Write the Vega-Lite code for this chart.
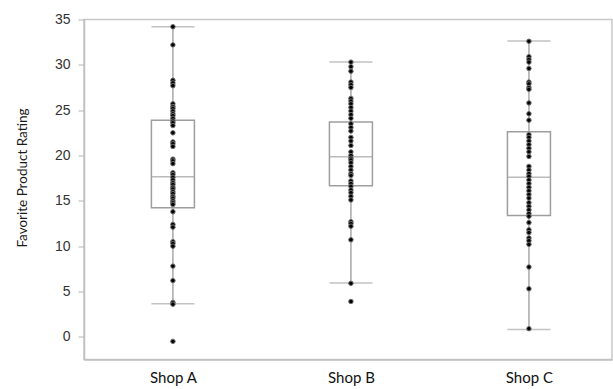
{
  "$schema": "https://vega.github.io/schema/vega-lite/v6.json",
  "width": 528,
  "height": 340,
  "autosize": {"type": "none"},
  "padding": {"left": 84, "top": 19.5, "right": 1, "bottom": 29.5},
  "background": "white",
  "config": {
    "view": {"stroke": "#c8c8c8", "strokeWidth": 1.5},
    "axis": {"grid": false}
  },
  "datasets": {
    "stats": [
      {"shop": "Shop A", "q1": 14.25, "median": 17.67, "q3": 23.9, "lo": 3.66, "hi": 34.2},
      {"shop": "Shop B", "q1": 16.65, "median": 19.87, "q3": 23.7, "lo": 5.94, "hi": 30.3},
      {"shop": "Shop C", "q1": 13.38, "median": 17.6, "q3": 22.63, "lo": 0.8, "hi": 32.64}
    ],
    "points": [
      {"shop": "Shop A", "rating": 34.2}, {"shop": "Shop A", "rating": 32.2}, {"shop": "Shop A", "rating": 28.3}, {"shop": "Shop A", "rating": 28.0}, {"shop": "Shop A", "rating": 27.7}, {"shop": "Shop A", "rating": 25.7}, {"shop": "Shop A", "rating": 25.4}, {"shop": "Shop A", "rating": 25.2}, {"shop": "Shop A", "rating": 24.9}, {"shop": "Shop A", "rating": 24.6}, {"shop": "Shop A", "rating": 24.4}, {"shop": "Shop A", "rating": 24.1}, {"shop": "Shop A", "rating": 23.8}, {"shop": "Shop A", "rating": 23.6}, {"shop": "Shop A", "rating": 23.3}, {"shop": "Shop A", "rating": 22.5}, {"shop": "Shop A", "rating": 21.5}, {"shop": "Shop A", "rating": 21.3}, {"shop": "Shop A", "rating": 21.0}, {"shop": "Shop A", "rating": 19.6}, {"shop": "Shop A", "rating": 19.4}, {"shop": "Shop A", "rating": 19.1}, {"shop": "Shop A", "rating": 18.1}, {"shop": "Shop A", "rating": 17.9}, {"shop": "Shop A", "rating": 17.6}, {"shop": "Shop A", "rating": 17.3}, {"shop": "Shop A", "rating": 17.0}, {"shop": "Shop A", "rating": 16.8}, {"shop": "Shop A", "rating": 16.5}, {"shop": "Shop A", "rating": 16.3}, {"shop": "Shop A", "rating": 16.0}, {"shop": "Shop A", "rating": 15.8}, {"shop": "Shop A", "rating": 15.5}, {"shop": "Shop A", "rating": 15.3}, {"shop": "Shop A", "rating": 15.0}, {"shop": "Shop A", "rating": 14.8}, {"shop": "Shop A", "rating": 14.6}, {"shop": "Shop A", "rating": 13.8}, {"shop": "Shop A", "rating": 12.4}, {"shop": "Shop A", "rating": 12.1}, {"shop": "Shop A", "rating": 10.5}, {"shop": "Shop A", "rating": 10.3}, {"shop": "Shop A", "rating": 10.0}, {"shop": "Shop A", "rating": 7.8}, {"shop": "Shop A", "rating": 6.2}, {"shop": "Shop A", "rating": 3.8}, {"shop": "Shop A", "rating": 3.6}, {"shop": "Shop A", "rating": -0.5},
      {"shop": "Shop B", "rating": 30.3}, {"shop": "Shop B", "rating": 29.8}, {"shop": "Shop B", "rating": 29.3}, {"shop": "Shop B", "rating": 28.1}, {"shop": "Shop B", "rating": 27.8}, {"shop": "Shop B", "rating": 27.5}, {"shop": "Shop B", "rating": 26.3}, {"shop": "Shop B", "rating": 26.0}, {"shop": "Shop B", "rating": 25.7}, {"shop": "Shop B", "rating": 25.3}, {"shop": "Shop B", "rating": 24.9}, {"shop": "Shop B", "rating": 24.5}, {"shop": "Shop B", "rating": 24.1}, {"shop": "Shop B", "rating": 23.5}, {"shop": "Shop B", "rating": 23.1}, {"shop": "Shop B", "rating": 22.7}, {"shop": "Shop B", "rating": 22.0}, {"shop": "Shop B", "rating": 21.6}, {"shop": "Shop B", "rating": 21.1}, {"shop": "Shop B", "rating": 20.4}, {"shop": "Shop B", "rating": 20.0}, {"shop": "Shop B", "rating": 19.7}, {"shop": "Shop B", "rating": 19.5}, {"shop": "Shop B", "rating": 19.2}, {"shop": "Shop B", "rating": 18.8}, {"shop": "Shop B", "rating": 18.4}, {"shop": "Shop B", "rating": 18.0}, {"shop": "Shop B", "rating": 17.8}, {"shop": "Shop B", "rating": 17.2}, {"shop": "Shop B", "rating": 16.9}, {"shop": "Shop B", "rating": 16.6}, {"shop": "Shop B", "rating": 16.2}, {"shop": "Shop B", "rating": 15.9}, {"shop": "Shop B", "rating": 15.5}, {"shop": "Shop B", "rating": 15.1}, {"shop": "Shop B", "rating": 12.7}, {"shop": "Shop B", "rating": 12.5}, {"shop": "Shop B", "rating": 12.2}, {"shop": "Shop B", "rating": 10.7}, {"shop": "Shop B", "rating": 5.9}, {"shop": "Shop B", "rating": 3.9},
      {"shop": "Shop C", "rating": 32.6}, {"shop": "Shop C", "rating": 30.9}, {"shop": "Shop C", "rating": 30.6}, {"shop": "Shop C", "rating": 30.3}, {"shop": "Shop C", "rating": 29.6}, {"shop": "Shop C", "rating": 28.1}, {"shop": "Shop C", "rating": 27.9}, {"shop": "Shop C", "rating": 27.5}, {"shop": "Shop C", "rating": 27.3}, {"shop": "Shop C", "rating": 25.8}, {"shop": "Shop C", "rating": 24.6}, {"shop": "Shop C", "rating": 23.9}, {"shop": "Shop C", "rating": 22.3}, {"shop": "Shop C", "rating": 22.0}, {"shop": "Shop C", "rating": 21.6}, {"shop": "Shop C", "rating": 21.2}, {"shop": "Shop C", "rating": 20.8}, {"shop": "Shop C", "rating": 20.4}, {"shop": "Shop C", "rating": 19.9}, {"shop": "Shop C", "rating": 18.8}, {"shop": "Shop C", "rating": 18.4}, {"shop": "Shop C", "rating": 18.0}, {"shop": "Shop C", "rating": 17.7}, {"shop": "Shop C", "rating": 17.3}, {"shop": "Shop C", "rating": 16.9}, {"shop": "Shop C", "rating": 16.5}, {"shop": "Shop C", "rating": 16.1}, {"shop": "Shop C", "rating": 15.7}, {"shop": "Shop C", "rating": 15.3}, {"shop": "Shop C", "rating": 14.8}, {"shop": "Shop C", "rating": 14.4}, {"shop": "Shop C", "rating": 14.0}, {"shop": "Shop C", "rating": 13.6}, {"shop": "Shop C", "rating": 13.3}, {"shop": "Shop C", "rating": 12.6}, {"shop": "Shop C", "rating": 11.8}, {"shop": "Shop C", "rating": 11.5}, {"shop": "Shop C", "rating": 10.9}, {"shop": "Shop C", "rating": 10.6}, {"shop": "Shop C", "rating": 10.2}, {"shop": "Shop C", "rating": 7.7}, {"shop": "Shop C", "rating": 5.3}, {"shop": "Shop C", "rating": 0.9}
    ]
  },
  "encoding": {
    "x": {
      "field": "shop",
      "type": "nominal",
      "sort": ["Shop A", "Shop B", "Shop C"],
      "scale": {"type": "point", "padding": 0.483, "align": 0.517},
      "axis": {
        "title": null,
        "labelAngle": 0,
        "ticks": false,
        "labelPadding": 11,
        "labelFont": "Lato",
        "labelFontSize": 15,
        "labelColor": "#111111",
        "domainColor": "#c0c0c0",
        "domainWidth": 1.5
      }
    }
  },
  "layer": [
    {
      "data": {"name": "stats"},
      "mark": {"type": "rule", "stroke": "#a8a8a8", "strokeWidth": 1.5},
      "encoding": {
        "y": {
          "field": "lo",
          "type": "quantitative",
          "scale": {"domain": [-2.5, 35], "nice": false, "zero": false},
          "axis": {
            "title": "Favorite Product Rating",
            "values": [0, 2.5, 5, 7.5, 10, 12.5, 15, 17.5, 20, 22.5, 25, 27.5, 30, 32.5, 35],
            "labelExpr": "datum.value % 5 === 0 ? datum.label : ''",
            "tickSize": {"condition": {"test": "datum.value % 5 === 0", "value": 6}, "value": 3},
            "tickColor": "#b5b5b5",
            "tickWidth": 1,
            "domainColor": "#c0c0c0",
            "domainWidth": 1.5,
            "labelPadding": 8,
            "labelFont": "Liberation Sans",
            "labelFontSize": 14,
            "labelColor": "#333333",
            "titleFont": "Lato",
            "titleFontSize": 13.5,
            "titleFontWeight": "normal",
            "titleColor": "#1a1a1a",
            "titleX": -62,
            "titleY": 158,
            "titleAngle": -90,
            "titleAlign": "center",
            "titleBaseline": "middle"
          }
        },
        "y2": {"field": "hi"}
      }
    },
    {
      "data": {"name": "stats"},
      "mark": {"type": "bar", "width": 43, "fill": "white", "stroke": "#9e9e9e", "strokeWidth": 1.5},
      "encoding": {
        "y": {"field": "q1", "type": "quantitative"},
        "y2": {"field": "q3"}
      }
    },
    {
      "data": {"name": "stats"},
      "mark": {"type": "tick", "orient": "horizontal", "size": 43, "thickness": 1.5, "color": "#9e9e9e"},
      "encoding": {
        "y": {"field": "median", "type": "quantitative"}
      }
    },
    {
      "data": {"name": "stats"},
      "mark": {"type": "tick", "orient": "horizontal", "size": 43, "thickness": 1.5, "color": "#a8a8a8"},
      "encoding": {
        "y": {"field": "lo", "type": "quantitative"}
      }
    },
    {
      "data": {"name": "stats"},
      "mark": {"type": "tick", "orient": "horizontal", "size": 43, "thickness": 1.5, "color": "#a8a8a8"},
      "encoding": {
        "y": {"field": "hi", "type": "quantitative"}
      }
    },
    {
      "data": {"name": "points"},
      "mark": {"type": "point", "shape": "circle", "filled": true, "fill": "#000", "stroke": "#6e6e6e", "strokeWidth": 1, "size": 20, "opacity": 1},
      "encoding": {
        "y": {"field": "rating", "type": "quantitative"}
      }
    }
  ]
}
